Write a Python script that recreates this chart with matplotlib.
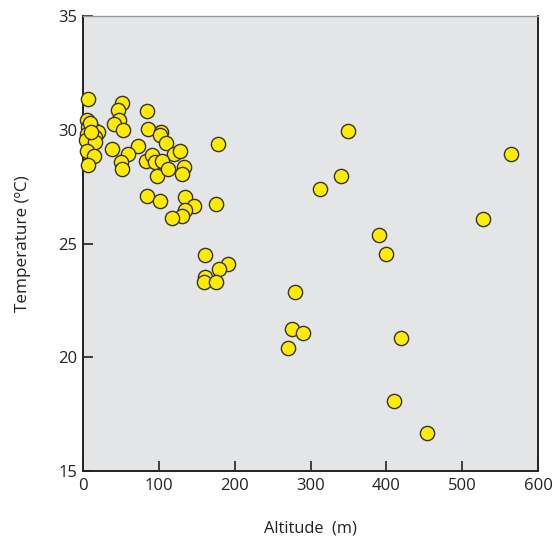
import numpy as np
import matplotlib.pyplot as plt

plt.rcParams['font.family'] = ['Open Sans', 'DejaVu Sans']

# altitude (m) and temperature (C)
altitude = [6, 5, 7, 14, 20, 5, 16, 4, 16, 5, 14, 7, 9, 11,
            51, 46, 85, 47, 41, 53, 86, 103, 101, 109, 178, 38, 73, 59,
            50, 51, 120, 128, 83, 91, 95, 104, 98, 112, 133, 131,
            85, 101, 135, 147, 176, 134, 130, 118,
            161, 191, 179, 161, 159, 175,
            350, 564, 340, 312, 527, 390, 400, 280, 276, 290, 270, 419, 410, 454]
temperature = [31.35, 30.45, 30.15, 30.0, 29.93, 29.85, 29.7, 29.56, 29.48, 29.07, 28.85, 28.46, 30.3, 29.9,
               31.2, 30.9, 30.84, 30.44, 30.26, 30.0, 30.07, 29.93, 29.78, 29.44, 29.41, 29.16, 29.3, 28.97,
               28.6, 28.31, 28.97, 29.07, 28.66, 28.9, 28.6, 28.65, 28.0, 28.27, 28.36, 28.05,
               27.1, 26.87, 27.04, 26.65, 26.77, 26.5, 26.2, 26.14,
               24.5, 24.1, 23.9, 23.54, 23.3, 23.3,
               29.97, 28.97, 27.97, 27.43, 26.1, 25.4, 24.57, 22.88, 21.26, 21.07, 20.41, 20.87, 18.07, 16.66]

fig = plt.figure(figsize=(5.52, 5.37), dpi=100)
ax = fig.add_axes([0.1504, 0.1229, 0.8242, 0.8464])
ax.set_facecolor('#e4e5e7')

ax.scatter(altitude, temperature, s=105, c='#ffeb00', edgecolors='#333333',
           linewidths=1.0, zorder=3, clip_on=False)

ax.set_xlim(0, 600)
ax.set_ylim(15, 35)
ax.set_xticks(np.arange(0, 601, 100))
ax.set_yticks(np.arange(15, 36, 5))
ax.tick_params(direction='in', length=7, width=1.2, color='#222222',
               labelsize=12, labelcolor='#222222')
ax.tick_params(axis='x', pad=5)
ax.tick_params(axis='y', pad=4)

for side in ['left', 'bottom', 'right']:
    ax.spines[side].set_color('#222222')
    ax.spines[side].set_linewidth(1.4)
ax.spines['top'].set_color('#999999')
ax.spines['top'].set_linewidth(1.0)

ax.set_xlabel('Altitude  (m)', fontsize=11.8, color='#222222', labelpad=19)
ax.set_ylabel('Temperature (ºC)', fontsize=12.3, color='#222222', labelpad=20)

fig.savefig('out.png', dpi=100)
